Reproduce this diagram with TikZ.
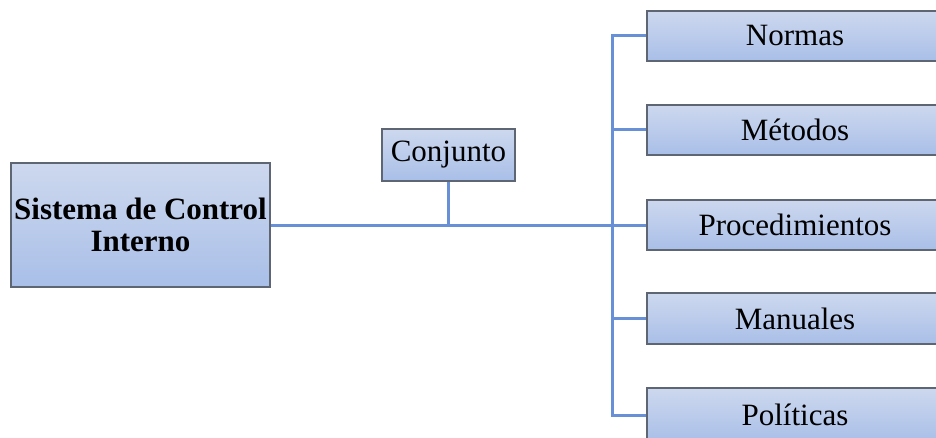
\documentclass[tikz,border=0pt]{standalone}
\usepackage{fontspec}
\setmainfont{Liberation Serif}
\definecolor{linecol}{HTML}{6790D6}
\definecolor{boxtop}{HTML}{CDD8EE}
\definecolor{boxbot}{HTML}{A9BFE8}
\definecolor{boxedge}{HTML}{5E6673}
\begin{document}
\begin{tikzpicture}[x=1pt,y=1pt,
  box/.style={draw=boxedge, line width=1.3pt, top color=boxtop, bottom color=boxbot,
    inner sep=0pt, align=center, font=\fontsize{31}{32}\selectfont},
  conn/.style={draw=linecol, line width=3pt}]
\useasboundingbox (0,0) rectangle (936,437);
\clip (0,0) rectangle (936,437);
\node[box, minimum width=259pt, minimum height=124pt, font=\fontsize{31}{32}\selectfont\bfseries] (sci) at (140.5,212) {Sistema de Control\\Interno};
\node[box, minimum width=133pt, minimum height=52pt] (conj) at (448.5,282) {Conjunto};
\node[box, minimum width=296pt, minimum height=50pt] (norm) at (795,401) {Normas};
\node[box, minimum width=296pt, minimum height=50pt] (met) at (795,307) {Métodos};
\node[box, minimum width=296pt, minimum height=50pt] (proc) at (795,212) {Procedimientos};
\node[box, minimum width=296pt, minimum height=51pt] (man) at (795,118.5) {Manuales};
\node[box, minimum width=296pt, minimum height=54pt] (pol) at (795,22) {Políticas};
\coordinate (busx) at (612,0);
\draw[conn] (sci.east) -- (proc.west);
\draw[conn] (conj.south) -- (conj.south |- sci.east);
\draw[conn] (norm.west) -- (norm.west -| busx) -- (pol.west -| busx) -- (pol.west);
\draw[conn] (met.west -| busx) -- (met.west);
\draw[conn] (man.west -| busx) -- (man.west);
\end{tikzpicture}
\end{document}
